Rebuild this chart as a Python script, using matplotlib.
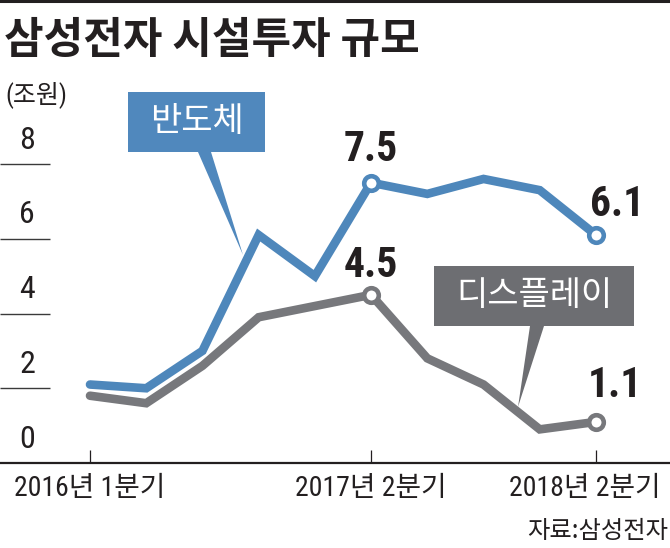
import matplotlib
matplotlib.use('Agg')
import matplotlib.pyplot as plt
from matplotlib.patches import Rectangle, Polygon
from matplotlib.lines import Line2D

# data (조원), 2016 1Q ~ 2018 2Q
quarters = list(range(10))
semi = [2.1, 2.0, 3.0, 6.1, 5.0, 7.5, 7.2, 7.6, 7.3, 6.1]
display = [1.8, 1.6, 2.6, 3.9, 4.2, 4.5, 2.8, 2.1, 0.9, 1.1]
yticks = [0, 2, 4, 6, 8]
xtick_pos = [0, 5, 9]
xtick_labels = ['2016년 1분기', '2017년 2분기', '2018년 2분기']
marked = [5, 9]

BLUE = '#4e87bb'
BLUE_BOX = '#5088bd'
GRAY = '#77787c'
GRAY_BOX = '#6d6e72'
INK = '#231f20'
NARROW = ['Roboto Condensed', 'Noto Sans CJK KR', 'DejaVu Sans']
KR = ['Noto Sans CJK KR', 'DejaVu Sans']

W, H = 670, 548


def fx(x):
    return x / W


def fy(y):
    return 1 - y / H


fig = plt.figure(figsize=(W / 100, H / 100), dpi=100)
ax = fig.add_axes([0, 0, 1, 1])
ax.set_xlim(-1.601, 10.317)
ax.set_ylim(-2.274, 12.388)
ax.axis('off')

# axis, tick dashes, labels
ax.axhline(0, color=INK, lw=1.6, zorder=1)
ax.hlines(yticks[1:], -1.601, -0.711, color='#3a3a3a', lw=1.0)
for v in yticks:
    ax.text(-1.12, v + 0.64, str(v), ha='center', va='center',
            fontsize=23, family=NARROW, color=INK)
ax.vlines(xtick_pos, 0, 0.35, color=INK, lw=0.9)
for i, (p, lab) in enumerate(zip(xtick_pos, xtick_labels)):
    if i == len(xtick_pos) - 1:
        ax.text(10.14, -0.68, lab, ha='right', va='center',
                fontsize=20, family=NARROW, color=INK)
    else:
        ax.text(p, -0.68, lab, ha='center', va='center',
                fontsize=20, family=NARROW, color=INK)

# lines
for vals, col, z in [(display, GRAY, 3), (semi, BLUE, 4)]:
    ax.plot(quarters, vals, color=col, lw=6.2, solid_joinstyle='miter',
            solid_capstyle='round', zorder=z)
    ax.plot([quarters[i] for i in marked], [vals[i] for i in marked],
            ls='none', marker='o', ms=10.5, mew=3.3, mfc='white',
            mec=col, zorder=z + 2)

# value labels
offsets = {(0, 5): (0, 24), (0, 9): (15, 22), (1, 5): (0, 21), (1, 9): (14, 26)}
for s, vals in enumerate([semi, display]):
    for i in marked:
        ax.annotate(f'{vals[i]:.1f}', (quarters[i], vals[i]),
                    xytext=offsets[(s, i)], textcoords='offset points',
                    ha='center', va='center', fontsize=30, weight='bold',
                    family=NARROW, color=INK, zorder=8)

# callout boxes
for (x0, y0, x1, y1), tri, col, txt in [
        ((128, 92, 265, 152), [(198, 152), (211, 152), (243, 255)], BLUE_BOX, '반도체'),
        ((434, 266, 634, 326), [(530, 326), (544, 326), (518, 407)], GRAY_BOX, '디스플레이')]:
    fig.add_artist(Rectangle((fx(x0), fy(y1)), fx(x1) - fx(x0), fy(y0) - fy(y1),
                             transform=fig.transFigure, color=col, lw=0, zorder=9))
    fig.add_artist(Polygon([(fx(a), fy(b)) for a, b in tri], closed=True,
                           transform=fig.transFigure, color=col, lw=0, zorder=9))
    fig.text(fx((x0 + x1) / 2), fy((y0 + y1) / 2), txt, ha='center', va='center',
             fontsize=24.5, family=KR, color='white', zorder=10)

# title, unit, source
fig.add_artist(Line2D([0, 1], [fy(1.2), fy(1.2)], transform=fig.transFigure,
                      color=INK, lw=2.2))
fig.text(fx(4), fy(40), '삼성전자 시설투자 규모', ha='left', va='center',
         fontsize=31, weight='bold', family=KR, color=INK)
fig.text(fx(5), fy(95), '(조원)', ha='left', va='center',
         fontsize=18, family=NARROW, color=INK)
fig.text(fx(668), fy(531), '자료:삼성전자', ha='right', va='center',
         fontsize=17.5, family=KR, color=INK)

fig.savefig('out.png', dpi=100)
